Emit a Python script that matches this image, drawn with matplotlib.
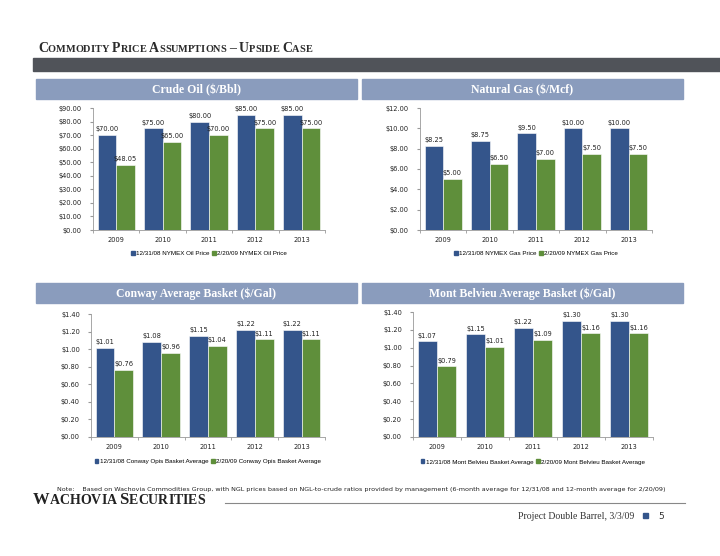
import matplotlib.pyplot as plt
import numpy as np
from matplotlib.patches import Rectangle, Patch

W, H = 720, 556

years = ['2009', '2010', '2011', '2012', '2013']

oil_1231 = [70.00, 75.00, 80.00, 85.00, 85.00]
oil_0220 = [48.05, 65.00, 70.00, 75.00, 75.00]
gas_1231 = [8.25, 8.75, 9.50, 10.00, 10.00]
gas_0220 = [5.00, 6.50, 7.00, 7.50, 7.50]
conway_1231 = [1.01, 1.08, 1.15, 1.22, 1.22]
conway_0220 = [0.76, 0.96, 1.04, 1.11, 1.11]
mb_1231 = [1.07, 1.15, 1.22, 1.30, 1.30]
mb_0220 = [0.79, 1.01, 1.09, 1.16, 1.16]

BLUE = '#34558b'
GREEN = '#5f8f3b'
HEAD = '#8a9cbd'

fig = plt.figure(figsize=(W / 100, H / 100), dpi=100)
renderer = fig.canvas.get_renderer()


def px(x, y):
    return x / W, 1 - y / H


def smallcaps(x, y, s, big, small, space=0.3, **kw):
    # fake small caps: capitals at big size, lower case letters upper-cased at small size
    for ch in s:
        if ch == ' ':
            x += big * space
            continue
        size = small if ch.islower() else big
        t = fig.text(*px(x, y), ch.upper(), fontsize=size, va='baseline', ha='left', **kw)
        x += t.get_window_extent(renderer).width


# page title and band
smallcaps(38, 52, 'Commodity Price Assumptions \u2013 Upside Case', 10, 7.4,
          family='Liberation Serif', fontweight='bold', color='#2b2b2b')
fig.patches.append(Rectangle(px(33, 71), (720 - 33) / W, 13 / H, transform=fig.transFigure,
                             color='#505359', zorder=0))


def header(x0, x1, y0, y1, title):
    fig.patches.append(Rectangle(px(x0, y1), (x1 - x0) / W, (y1 - y0) / H,
                                 transform=fig.transFigure, color=HEAD, zorder=0))
    fig.text(*px((x0 + x1) / 2, (y0 + y1) / 2 + 1), title, ha='center', va='center',
             color='white', fontsize=8.5, family='Liberation Serif', fontweight='bold')


def chart(rect, a, b, ymax, step, fmt, labels):
    ax = fig.add_axes(rect)
    x = np.arange(len(years))
    w = 0.4
    bars1 = ax.bar(x - w / 2, a, w, color=BLUE, edgecolor='white', linewidth=0.4, label=labels[0])
    bars2 = ax.bar(x + w / 2, b, w, color=GREEN, edgecolor='white', linewidth=0.4, label=labels[1])
    for bars, vals in ((bars1, a), (bars2, b)):
        for r, v in zip(bars, vals):
            ax.annotate(fmt.format(v), (r.get_x() + r.get_width() / 2, v), xytext=(0, 2),
                        textcoords='offset points', ha='center', va='bottom', fontsize=4.8,
                        color='#222222')
    ax.set_xlim(-0.5, len(years) - 0.5)
    ax.set_ylim(0, ymax)
    ticks = np.arange(0, ymax + step / 2, step)
    ax.set_yticks(ticks)
    ax.set_yticklabels([fmt.format(t) for t in ticks])
    ax.set_xticks(x)
    ax.set_xticklabels(years)
    ax.set_xticks(np.arange(-0.5, len(years)), minor=True)
    ax.tick_params(axis='x', which='major', length=0, labelsize=4.8, pad=5, colors='#222222')
    ax.tick_params(axis='x', which='minor', length=2, color='#999999')
    ax.tick_params(axis='y', length=2, labelsize=4.8, pad=6, color='#999999', labelcolor='#222222')
    for s in ('top', 'right'):
        ax.spines[s].set_visible(False)
    for s in ('left', 'bottom'):
        ax.spines[s].set_color('#999999')
        ax.spines[s].set_linewidth(0.6)
    return ax


def legend(ax, labels, y):
    handles = [Patch(color=BLUE), Patch(color=GREEN)]
    ax.legend(handles, labels, loc='center', bbox_to_anchor=(0.5, y), ncol=2, frameon=False,
              prop={'family': 'Liberation Sans', 'size': 4.5}, handlelength=0.6,
              handleheight=0.6, handletextpad=0.2, columnspacing=0.5, borderaxespad=0)


header(36, 357, 79, 99, 'Crude Oil (\\$/Bbl)')
header(362, 683, 79, 99, 'Natural Gas (\\$/Mcf)')
header(36, 357, 283, 303, 'Conway Average Basket (\\$/Gal)')
header(362, 683, 283, 303, 'Mont Belvieu Average Basket (\\$/Gal)')

oil_labels = ['12/31/08 NYMEX Oil Price', '2/20/09 NYMEX Oil Price']
gas_labels = ['12/31/08 NYMEX Gas Price', '2/20/09 NYMEX Gas Price']
conway_labels = ['12/31/08 Conway Opis Basket Average', '2/20/09 Conway Opis Basket Average']
mb_labels = ['12/31/08 Mont Belvieu Basket Average', '2/20/09 Mont Belvieu Basket Average']

ax1 = chart([93 / W, 1 - 230 / H, 232 / W, 122 / H], oil_1231, oil_0220, 90, 10, '${:.2f}', oil_labels)
legend(ax1, oil_labels, -0.19)
ax2 = chart([420 / W, 1 - 230 / H, 232 / W, 122 / H], gas_1231, gas_0220, 12, 2, '${:.2f}', gas_labels)
legend(ax2, gas_labels, -0.19)
ax3 = chart([91 / W, 1 - 437 / H, 234 / W, 123 / H], conway_1231, conway_0220, 1.4, 0.2, '${:.2f}', conway_labels)
legend(ax3, conway_labels, -0.2)
ax4 = chart([413 / W, 1 - 437 / H, 240 / W, 125 / H], mb_1231, mb_0220, 1.4, 0.2, '${:.2f}', mb_labels)
legend(ax4, mb_labels, -0.2)

# footer
fig.text(*px(57, 491), 'Note:    Based on Wachovia Commodities Group, with NGL prices based on NGL-to-crude ratios '
         'provided by management (6-month average for 12/31/08 and 12-month average for 2/20/09)',
         fontsize=4.55, va='baseline', color='#222222')
smallcaps(33, 504, 'Wachovia Securities', 12, 10, space=0.25, family='Liberation Serif',
          fontweight='bold', color='#222222')
fig.add_artist(plt.Line2D([225 / W, 685 / W], [1 - 503 / H] * 2, color='#888888', linewidth=0.8))
fig.text(*px(634, 519), 'Project Double Barrel, 3/3/09', ha='right', va='baseline', fontsize=7,
         family='Liberation Serif', color='#333333')
fig.patches.append(Rectangle(px(643, 518), 5 / W, 5 / H, transform=fig.transFigure, color=BLUE))
fig.text(*px(661, 519), '5', ha='center', va='baseline', fontsize=6.5, color='#333333')

fig.savefig('out.png', dpi=100)
